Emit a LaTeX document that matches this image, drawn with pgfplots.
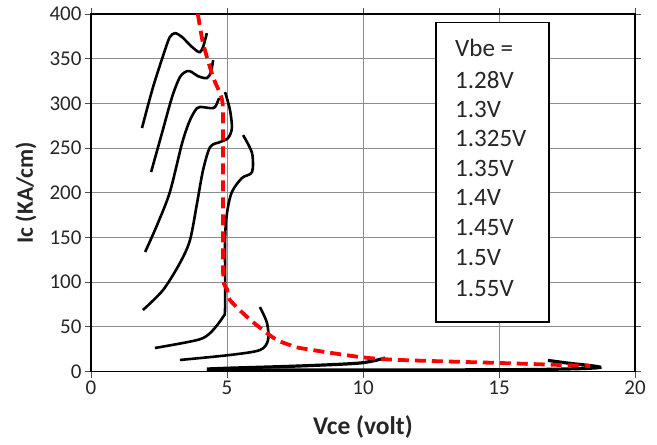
\documentclass[border=0pt]{standalone}
\usepackage{fontspec}
\setmainfont{Carlito}
\usepackage{pgfplots}
\pgfplotsset{compat=1.18}
\begin{document}
\begin{tikzpicture}
\useasboundingbox (-91pt,-73.5pt) rectangle (566pt,371.5pt);
\begin{axis}[
  at={(0pt,0pt)}, anchor=south west,
  scale only axis, width=544pt, height=357.5pt,
  xmin=0, xmax=20, ymin=0, ymax=400,
  xtick={0,5,10,15,20}, ytick={0,50,100,150,200,250,300,350,400},
  grid=major, major grid style={black!45, line width=0.8pt},
  tick align=outside, major tick length=6pt,
  tick style={black!70, line width=0.8pt},
  axis line style={black, line width=1.3pt},
  ticklabel style={font=\fontsize{21}{25}\selectfont, text=black!85},
  /pgf/number format/assume math mode=true,
  xlabel={Vce (volt)}, ylabel={Ic (KA/cm)},
  every axis x label/.style={at={(axis description cs:0.5,0)}, yshift=-55pt, anchor=center, font=\bfseries\fontsize{25.5}{30}\selectfont, text=black!85},
  every axis y label/.style={at={(axis description cs:0,0.5)}, xshift=-65pt, rotate=90, anchor=center, font=\bfseries\fontsize{23.5}{28}\selectfont, text=black!85},
  clip=true,
]
% Vbe curves (black)
\addplot[black, line width=2.6pt, smooth, tension=0.5] coordinates {
 (1.875,272.4) (2.28,318.1) (2.72,359.6) (2.90,374.2) (3.09,378.6) (3.35,374.2)
 (3.64,365.2) (3.90,358.5) (4.01,357.4) (4.12,363.0) (4.26,378.6)};
\addplot[black, line width=2.6pt, smooth, tension=0.5] coordinates {
 (2.21,223.2) (2.61,266.8) (2.98,307.0) (3.27,329.4) (3.53,336.1) (3.71,335.0)
 (3.93,330.5) (4.26,328.3) (4.41,335.0) (4.49,348.4)};
\addplot[black, line width=2.6pt, smooth, tension=0.5] coordinates {
 (1.99,133.7) (2.43,163.9) (2.90,200.8) (3.35,255.6) (3.64,281.3) (3.90,294.7)
 (4.12,295.8) (4.38,294.7) (4.56,295.8) (4.71,306.0)};
\addplot[black, line width=2.6pt, smooth, tension=0.5] coordinates {
 (1.91,68.8) (2.65,91.2) (3.27,121.4) (3.64,147.1) (3.90,188.5) (4.12,225.3)
 (4.38,251.1) (4.74,256.7) (5.04,261.2) (5.18,272.4) (5.11,292.5) (4.93,312.6)};
\addplot[black, line width=2.6pt, smooth, tension=0.5] coordinates {
 (5.59,264.5) (5.92,244.4) (5.92,223.2) (5.55,216.5) (5.18,200.8) (5.00,177.3)
 (4.93,147.1) (4.93,72.1) (4.85,60.9) (4.38,43.0) (3.90,35.2) (2.35,26.3)};
\addplot[black, line width=2.6pt, smooth, tension=0.5] coordinates {
 (6.21,72.1) (6.47,54.3) (6.51,35.2) (6.21,24.0) (5.11,18.5) (3.27,12.9)};
\addplot[black, line width=3.2pt, smooth, tension=0.5] coordinates {
 (10.81,15.1) (9.89,9.5) (7.68,6.2) (5.22,3.9) (4.26,2.8)};
\addplot[black, line width=3.2pt, smooth, tension=0.5] coordinates {
 (4.26,1.7) (11.36,1.7) (16.5,2.3) (18.71,4.5) (17.5,9.5) (16.8,12.4)};
% envelope (red dashed)
\addplot[red, line width=3.8pt, dash pattern=on 11pt off 6pt, smooth, tension=0.5] coordinates {
 (3.93,400) (4.12,367.5) (4.49,329.4) (4.82,303.7) (4.85,270.1) (4.85,147.1)
 (4.87,102.3) (5.0,92) (5.11,80) (5.74,61) (6.32,46.4) (6.84,35.2) (7.32,29.6)
 (7.68,26.3) (9.89,16.2) (11.36,12.9) (15.04,9.5) (18.35,6.2)};
\end{axis}
\draw[black, line width=1.3pt, fill=white] (345pt,49.5pt) rectangle (458pt,348.8pt);
\begin{scope}[every node/.style={anchor=west, inner sep=0pt, font=\fontsize{25}{29}\selectfont, text=black!85}]
\node at (364pt,323.5pt) {Vbe =};
\node at (364pt,291.5pt) {1.28V};
\node at (364pt,262.5pt) {1.3V};
\node at (364pt,233.5pt) {1.325V};
\node at (364pt,203.5pt) {1.35V};
\node at (364pt,173.5pt) {1.4V};
\node at (364pt,143.5pt) {1.45V};
\node at (364pt,113.5pt) {1.5V};
\node at (364pt,82.5pt) {1.55V};
\end{scope}
\end{tikzpicture}
\end{document}
